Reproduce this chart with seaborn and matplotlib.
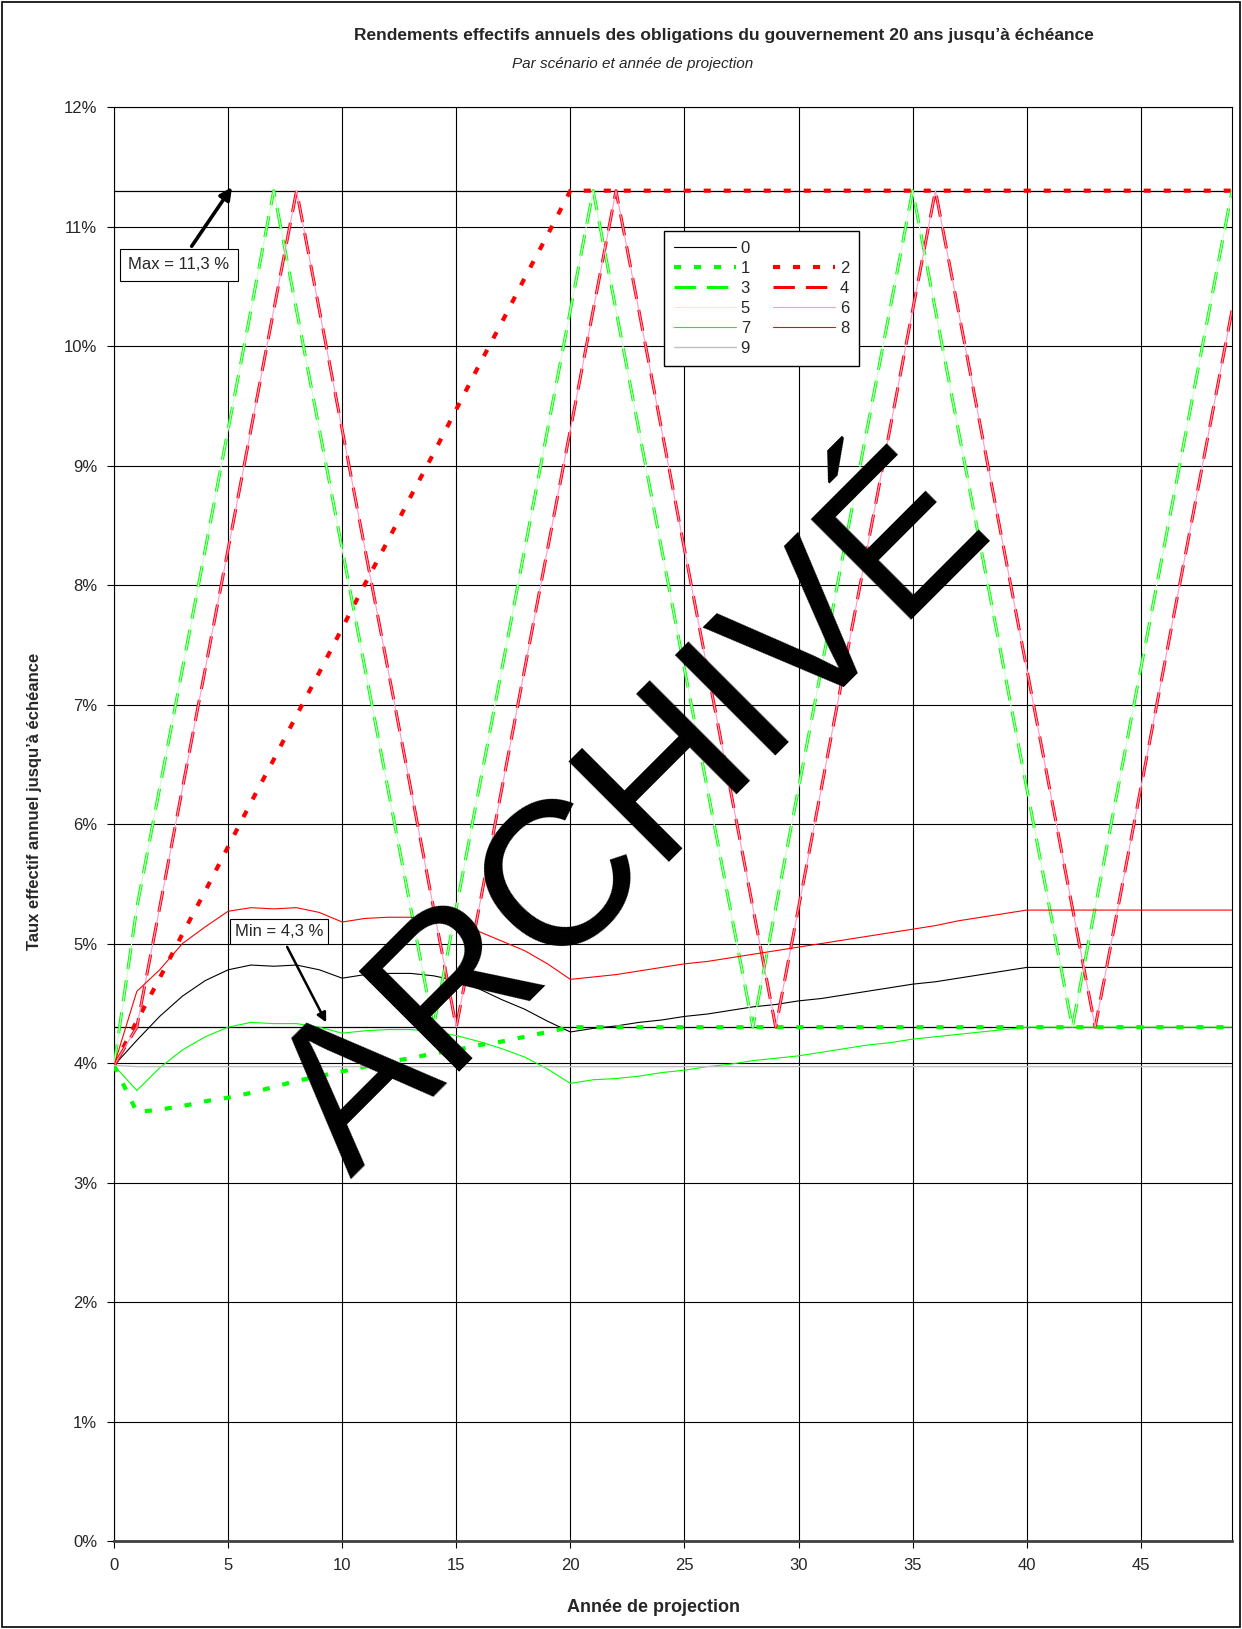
import matplotlib
matplotlib.use("Agg")
import matplotlib.pyplot as plt
from matplotlib import font_manager
from matplotlib.lines import Line2D
from matplotlib.patches import Rectangle
import seaborn as sns

# année de projection
years = list(range(50))

# rendements (%) par scénario
s0 = [3.98, 4.19, 4.39, 4.56, 4.69, 4.78, 4.82, 4.81, 4.82, 4.78,
      4.71, 4.74, 4.75, 4.75, 4.73, 4.69, 4.62, 4.53, 4.45, 4.35,
      4.26, 4.29, 4.31, 4.34, 4.36, 4.39, 4.41, 4.44, 4.47, 4.49,
      4.52, 4.54, 4.57, 4.60, 4.63, 4.66, 4.68, 4.71, 4.74, 4.77,
      4.80, 4.80, 4.80, 4.80, 4.80, 4.80, 4.80, 4.80, 4.80, 4.80]
s1 = [3.98, 3.59, 3.61, 3.64, 3.68, 3.71, 3.75, 3.80, 3.85, 3.89,
      3.93, 3.97, 4.01, 4.04, 4.08, 4.11, 4.15, 4.18, 4.22, 4.26,
      4.30, 4.30, 4.30, 4.30, 4.30, 4.30, 4.30, 4.30, 4.30, 4.30,
      4.30, 4.30, 4.30, 4.30, 4.30, 4.30, 4.30, 4.30, 4.30, 4.30,
      4.30, 4.30, 4.30, 4.30, 4.30, 4.30, 4.30, 4.30, 4.30, 4.30]
s2 = [3.98, 4.35, 4.71, 5.08, 5.44, 5.81, 6.18, 6.54, 6.91, 7.27,
      7.64, 8.01, 8.37, 8.74, 9.10, 9.47, 9.84, 10.20, 10.57, 10.93,
      11.30, 11.30, 11.30, 11.30, 11.30, 11.30, 11.30, 11.30, 11.30, 11.30,
      11.30, 11.30, 11.30, 11.30, 11.30, 11.30, 11.30, 11.30, 11.30, 11.30,
      11.30, 11.30, 11.30, 11.30, 11.30, 11.30, 11.30, 11.30, 11.30, 11.30]
s3 = [3.98, 5.3, 6.3, 7.3, 8.3, 9.3, 10.3, 11.3, 10.3, 9.3,
      8.3, 7.3, 6.3, 5.3, 4.3, 5.3, 6.3, 7.3, 8.3, 9.3,
      10.3, 11.3, 10.3, 9.3, 8.3, 7.3, 6.3, 5.3, 4.3, 5.3,
      6.3, 7.3, 8.3, 9.3, 10.3, 11.3, 10.3, 9.3, 8.3, 7.3,
      6.3, 5.3, 4.3, 5.3, 6.3, 7.3, 8.3, 9.3, 10.3, 11.3]
s4 = [3.98, 4.3, 5.3, 6.3, 7.3, 8.3, 9.3, 10.3, 11.3, 10.3,
      9.3, 8.3, 7.3, 6.3, 5.3, 4.3, 5.3, 6.3, 7.3, 8.3,
      9.3, 10.3, 11.3, 10.3, 9.3, 8.3, 7.3, 6.3, 5.3, 4.3,
      5.3, 6.3, 7.3, 8.3, 9.3, 10.3, 11.3, 10.3, 9.3, 8.3,
      7.3, 6.3, 5.3, 4.3, 5.3, 6.3, 7.3, 8.3, 9.3, 10.3]
s5 = s3  # même trajectoire que 3
s6 = s4  # même trajectoire que 4
s7 = [3.98, 3.77, 3.96, 4.11, 4.22, 4.30, 4.34, 4.33, 4.33, 4.30,
      4.25, 4.27, 4.28, 4.28, 4.26, 4.23, 4.18, 4.12, 4.05, 3.95,
      3.83, 3.86, 3.87, 3.89, 3.92, 3.94, 3.97, 3.99, 4.02, 4.04,
      4.06, 4.09, 4.12, 4.15, 4.17, 4.20, 4.22, 4.24, 4.26, 4.28,
      4.30, 4.30, 4.30, 4.30, 4.30, 4.30, 4.30, 4.30, 4.30, 4.30]
s8 = [3.98, 4.60, 4.78, 5.00, 5.14, 5.27, 5.30, 5.29, 5.30, 5.26,
      5.18, 5.21, 5.22, 5.22, 5.20, 5.17, 5.10, 5.02, 4.94, 4.83,
      4.70, 4.72, 4.74, 4.77, 4.80, 4.83, 4.85, 4.88, 4.91, 4.94,
      4.97, 5.00, 5.03, 5.06, 5.09, 5.12, 5.15, 5.19, 5.22, 5.25,
      5.28, 5.28, 5.28, 5.28, 5.28, 5.28, 5.28, 5.28, 5.28, 5.28]
s9 = [3.98, 3.97, 3.97, 3.97, 3.97, 3.97, 3.97, 3.97, 3.97, 3.97,
      3.97, 3.97, 3.97, 3.97, 3.97, 3.97, 3.97, 3.97, 3.97, 3.97,
      3.97, 3.97, 3.97, 3.97, 3.97, 3.97, 3.97, 3.97, 3.97, 3.97,
      3.97, 3.97, 3.97, 3.97, 3.97, 3.97, 3.97, 3.97, 3.97, 3.97,
      3.97, 3.97, 3.97, 3.97, 3.97, 3.97, 3.97, 3.97, 3.97, 3.97]

scenarios = [s0, s1, s2, s3, s4, s5, s6, s7, s8, s9]
labels = ["0", "1", "2", "3", "4", "5", "6", "7", "8", "9"]
y_ticks = list(range(0, 13))
x_ticks = list(range(0, 50, 5))
max_val = 11.3
min_val = 4.3

# styles: (couleur, épaisseur, style)
styles = [
    ("black", 0.8, "-"),
    ("#00FF00", 3.0, (0, (1.7, 3.1))),
    ("#FF0000", 3.0, (0, (1.7, 3.1))),
    ("#00FF00", 2.2, (0, (7.0, 3.6))),
    ("#FF0000", 2.2, (0, (7.0, 3.6))),
    ("#CCFFCC", 0.8, "-"),
    ("#FF99CC", 0.8, "-"),
    ("#00FF00", 0.8, "-"),
    ("#FF0000", 0.8, "-"),
    ("#C0C0C0", 1.0, "-"),
]

sns.set_style("white")
names = {f.name for f in font_manager.fontManager.ttflist}
narrow = "Liberation Sans Narrow" if "Liberation Sans Narrow" in names else "Liberation Sans"
plt.rcParams["font.family"] = [narrow, "DejaVu Sans"]

fig = plt.figure(figsize=(12.42, 16.29), dpi=100)
ax = fig.add_axes([0.0918, 0.0540, 0.9002, 0.8803])

ax.axhline(max_val, color="black", lw=0.9, zorder=1)
ax.axhline(min_val, color="black", lw=0.9, zorder=1)

handles = {}
for vals, lab, (col, lw, ls) in zip(scenarios, labels, styles):
    sns.lineplot(x=years, y=vals, ax=ax, color=col, lw=lw, linestyle=ls, zorder=3)
    handles[lab] = ax.lines[-1]

ax.set_xlim(0, 49)
ax.set_ylim(0, 12)
ax.set_xticks(x_ticks)
ax.set_yticks(y_ticks)
ax.set_yticklabels([f"{v}%" for v in y_ticks])
ax.grid(True, color="black", lw=0.8)
ax.set_axisbelow(True)
ax.tick_params(axis="both", direction="out", length=5, width=0.8, color="black",
               labelsize=12, pad=7, left=True, bottom=True)
for side in ["left", "right", "top"]:
    ax.spines[side].set_color("black")
    ax.spines[side].set_linewidth(0.8)
ax.spines["bottom"].set_color("#404040")
ax.spines["bottom"].set_linewidth(2)

blank = Line2D([], [], color="none")
order = ["0", "1", "3", "5", "7", "9", None, "2", "4", "6", "8"]
leg = ax.legend([handles[k] if k else blank for k in order],
                [k if k else " " for k in order],
                ncol=2, loc="upper left", bbox_to_anchor=(0.4845, 0.9195),
                fontsize=12, handlelength=3.7, handletextpad=0.3,
                columnspacing=1.4, labelspacing=0.3, borderpad=0.6,
                frameon=True, fancybox=False, framealpha=1)
leg.get_frame().set_edgecolor("black")
leg.get_frame().set_linewidth(1)

ax.annotate("Max = 11,3 %", xy=(5.17, 11.33), xytext=(2.85, 10.68),
            ha="center", va="center", fontsize=12,
            bbox=dict(boxstyle="square,pad=0.5", fc="white", ec="black", lw=0.8),
            arrowprops=dict(arrowstyle="-|>", color="black", lw=2.6,
                            mutation_scale=18, shrinkB=0))
ax.annotate("Min = 4,3 %", xy=(9.3, 4.34), xytext=(7.24, 5.10),
            ha="center", va="center", fontsize=12,
            bbox=dict(boxstyle="square,pad=0.3", fc="white", ec="black", lw=0.8),
            arrowprops=dict(arrowstyle="-|>", color="black", lw=1.8,
                            mutation_scale=14, shrinkB=0))

fig.text(0.583, 0.978, "Rendements effectifs annuels des obligations du gouvernement 20 ans jusqu’à échéance",
         ha="center", va="center", fontsize=12.5, weight="bold")
fig.text(0.509, 0.9607, "Par scénario et année de projection",
         ha="center", va="center", fontsize=11, style="italic")
fig.text(0.526, 0.0129, "Année de projection", ha="center", va="center",
         fontsize=13, weight="bold")
fig.text(0.0274, 0.508, "Taux effectif annuel jusqu’à échéance", ha="center", va="center",
         rotation=90, fontsize=12, weight="bold")

# filigrane
fig.text(0.5427, 0.474, "ARCHIVÉ", rotation=45, rotation_mode="anchor",
         ha="center", va="baseline", fontsize=148, family="Liberation Sans",
         color="black", zorder=10)

fig.patches.append(Rectangle((0.002, 0.001), 0.996, 0.998, transform=fig.transFigure,
                             fill=False, ec="black", lw=1.2))

fig.savefig("out.png", dpi=100)
